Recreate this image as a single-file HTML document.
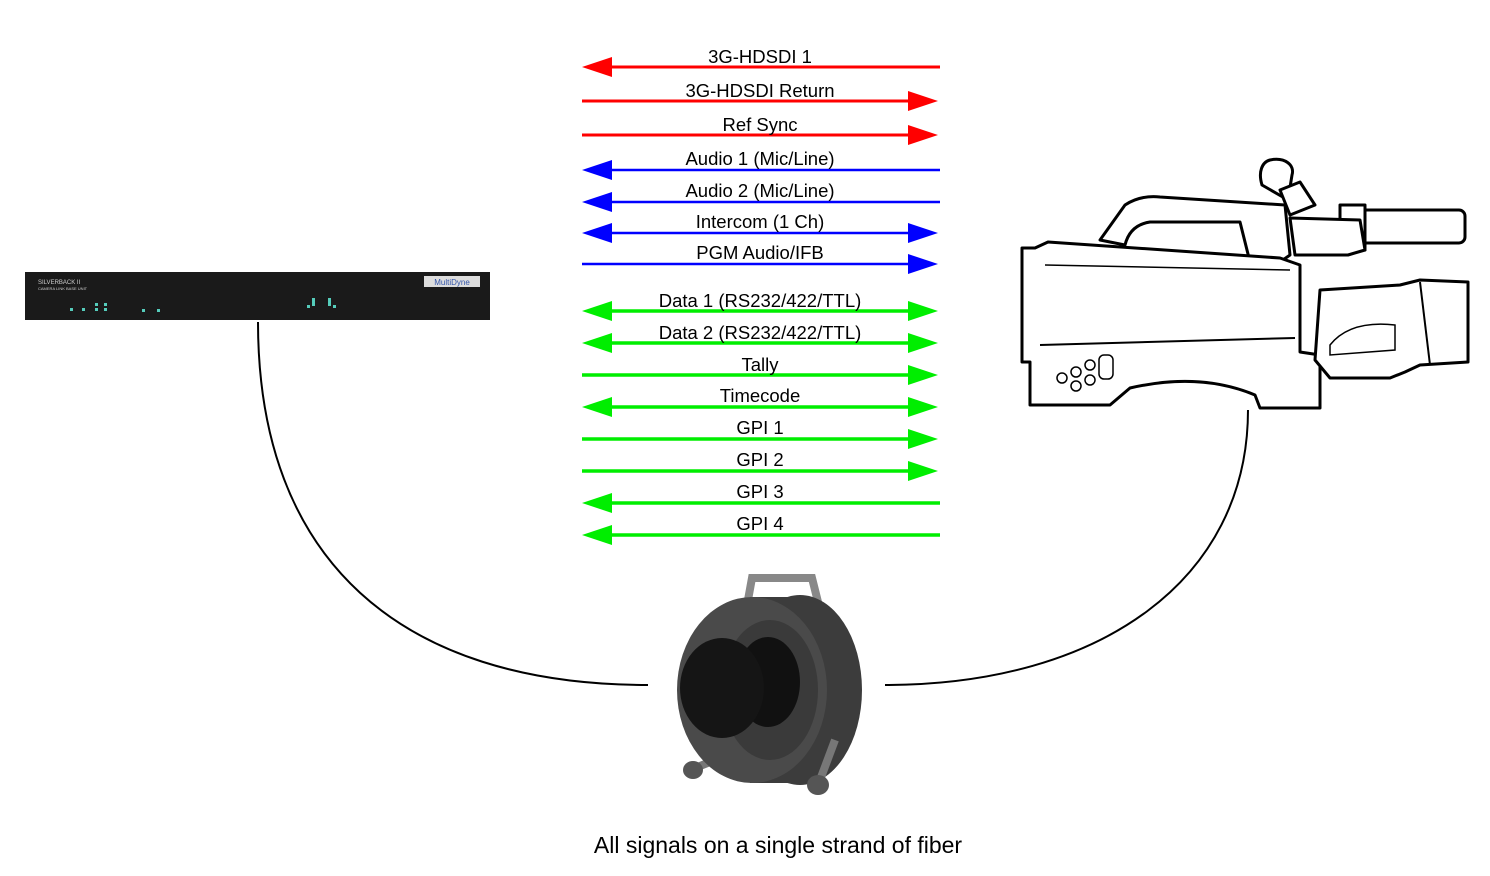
<!DOCTYPE html>
<html><head><meta charset="utf-8"><style>
html,body{margin:0;padding:0;background:#fff;}
svg{display:block;}
text{font-family:"Liberation Sans",Arial,sans-serif;}
</style></head><body>
<svg width="1490" height="876" viewBox="0 0 1490 876" xmlns="http://www.w3.org/2000/svg">
<g font-size="18.5" text-anchor="middle" fill="#000">
<g fill="#ff0000" stroke="#ff0000" stroke-width="3">
<line x1="610" y1="67" x2="940" y2="67"/><polygon stroke="none" points="582,67 612,57 612,77"/>
<line x1="582" y1="101" x2="910" y2="101"/><polygon stroke="none" points="938,101 908,91 908,111"/>
<line x1="582" y1="135" x2="910" y2="135"/><polygon stroke="none" points="938,135 908,125 908,145"/>
</g>
<g fill="#0000ff" stroke="#0000ff" stroke-width="2.5">
<line x1="610" y1="170" x2="940" y2="170"/><polygon stroke="none" points="582,170 612,160 612,180"/>
<line x1="610" y1="202" x2="940" y2="202"/><polygon stroke="none" points="582,202 612,192 612,212"/>
<line x1="610" y1="233" x2="910" y2="233"/><polygon stroke="none" points="582,233 612,223 612,243"/><polygon stroke="none" points="938,233 908,223 908,243"/>
<line x1="582" y1="264" x2="910" y2="264"/><polygon stroke="none" points="938,264 908,254 908,274"/>
</g>
<g fill="#00ee00" stroke="#00ee00" stroke-width="3.5">
<line x1="610" y1="311" x2="910" y2="311"/><polygon stroke="none" points="582,311 612,301 612,321"/><polygon stroke="none" points="938,311 908,301 908,321"/>
<line x1="610" y1="343" x2="910" y2="343"/><polygon stroke="none" points="582,343 612,333 612,353"/><polygon stroke="none" points="938,343 908,333 908,353"/>
<line x1="582" y1="375" x2="910" y2="375"/><polygon stroke="none" points="938,375 908,365 908,385"/>
<line x1="610" y1="407" x2="910" y2="407"/><polygon stroke="none" points="582,407 612,397 612,417"/><polygon stroke="none" points="938,407 908,397 908,417"/>
<line x1="582" y1="439" x2="910" y2="439"/><polygon stroke="none" points="938,439 908,429 908,449"/>
<line x1="582" y1="471" x2="910" y2="471"/><polygon stroke="none" points="938,471 908,461 908,481"/>
<line x1="610" y1="503" x2="940" y2="503"/><polygon stroke="none" points="582,503 612,493 612,513"/>
<line x1="610" y1="535" x2="940" y2="535"/><polygon stroke="none" points="582,535 612,525 612,545"/>
</g>
<text x="760" y="63">3G-HDSDI 1</text>
<text x="760" y="97">3G-HDSDI Return</text>
<text x="760" y="131">Ref Sync</text>
<text x="760" y="165">Audio 1 (Mic/Line)</text>
<text x="760" y="197">Audio 2 (Mic/Line)</text>
<text x="760" y="228">Intercom (1 Ch)</text>
<text x="760" y="259">PGM Audio/IFB</text>
<text x="760" y="307">Data 1 (RS232/422/TTL)</text>
<text x="760" y="339">Data 2 (RS232/422/TTL)</text>
<text x="760" y="371">Tally</text>
<text x="760" y="402">Timecode</text>
<text x="760" y="434">GPI 1</text>
<text x="760" y="466">GPI 2</text>
<text x="760" y="498">GPI 3</text>
<text x="760" y="530">GPI 4</text>
<text x="778" y="853" font-size="23">All signals on a single strand of fiber</text>
</g>
<path d="M258,322 C258,560 400,685 648,685" fill="none" stroke="#000" stroke-width="2"/>
<path d="M1248,410 C1248,580 1100,685 885,685" fill="none" stroke="#000" stroke-width="2"/>
<rect x="25" y="272" width="465" height="48" fill="#1a1a1a"/>
<text x="38" y="284" font-size="6" fill="#ccc">SILVERBACK II</text>
<text x="38" y="290" font-size="4" fill="#ccc">CAMERA LINK BASE UNIT</text>
<rect x="424" y="276" width="56" height="11" fill="#ddd"/>
<text x="452" y="285" font-size="8" text-anchor="middle" fill="#3355aa">MultiDyne</text>
<g fill="#5cb">
<rect x="70" y="308" width="3" height="3"/><rect x="82" y="308" width="3" height="3"/>
<rect x="95" y="303" width="3" height="3"/><rect x="104" y="303" width="3" height="3"/><rect x="95" y="308" width="3" height="3"/><rect x="104" y="308" width="3" height="3"/>
<rect x="142" y="309" width="3" height="3"/><rect x="157" y="309" width="3" height="3"/>
<rect x="307" y="305" width="3" height="3"/><rect x="312" y="298" width="3" height="8"/><rect x="328" y="298" width="3" height="8"/><rect x="333" y="305" width="3" height="3"/>
</g>
<g fill="#fff" stroke="#000" stroke-width="3" stroke-linejoin="round">
<path d="M1270,160 C1262,162 1258,172 1262,185 L1288,200 L1292,175 C1295,165 1285,157 1270,160Z"/>
<path d="M1280,190 L1300,182 L1315,205 L1290,215Z"/>
<rect x="1360" y="210" width="105" height="33" rx="6"/>
<path d="M1340,205 L1365,205 L1365,250 L1340,250Z"/>
<path d="M1290,218 L1360,220 L1365,250 L1348,255 L1295,255Z"/>
<path d="M1100,240 L1125,205 Q1140,195 1160,197 L1285,205 L1290,255 L1280,262 L1250,262 L1240,222 L1150,222 Q1130,225 1125,245Z"/>
<path d="M1022,248 L1035,248 L1048,242 L1280,258 L1300,265 L1300,352 L1320,355 L1320,408 L1260,408 L1255,395 Q1200,372 1130,388 L1110,405 L1030,405 L1030,362 L1022,362Z"/>
<path d="M1320,290 L1400,285 L1420,280 L1468,282 L1468,362 L1420,365 L1405,372 L1390,378 L1330,378 L1315,360Z"/>
<line x1="1040" y1="345" x2="1295" y2="338" stroke-width="2"/>
<line x1="1045" y1="265" x2="1290" y2="270" stroke-width="1.5"/>
<path d="M1420,282 L1430,365" stroke-width="2"/>
</g>
<g fill="none" stroke="#000" stroke-width="1.5">
<circle cx="1062" cy="378" r="5"/><circle cx="1076" cy="372" r="5"/><circle cx="1090" cy="365" r="5"/>
<circle cx="1076" cy="386" r="5"/><circle cx="1090" cy="380" r="5"/>
<rect x="1099" y="355" width="14" height="24" rx="5"/>
<path d="M1330,345 Q1350,320 1395,325 L1395,350 L1330,355Z"/>
</g>
<path d="M748,600 L752,578 L812,578 L820,610" fill="none" stroke="#888" stroke-width="8"/>
<ellipse cx="800" cy="690" rx="62" ry="95" fill="#3c3c3c"/>
<rect x="750" y="597" width="52" height="186" fill="#3c3c3c"/>
<path d="M715,760 L690,770 M835,740 L820,780" stroke="#777" stroke-width="8"/>
<ellipse cx="752" cy="690" rx="75" ry="93" fill="#4a4a4a"/>
<ellipse cx="770" cy="690" rx="48" ry="70" fill="#3a3a3a"/>
<ellipse cx="768" cy="682" rx="32" ry="45" fill="#111"/>
<ellipse cx="722" cy="688" rx="42" ry="50" fill="#151515"/>
<ellipse cx="693" cy="770" rx="10" ry="9" fill="#555"/>
<ellipse cx="818" cy="785" rx="11" ry="10" fill="#555"/>
</svg>
</body></html>
